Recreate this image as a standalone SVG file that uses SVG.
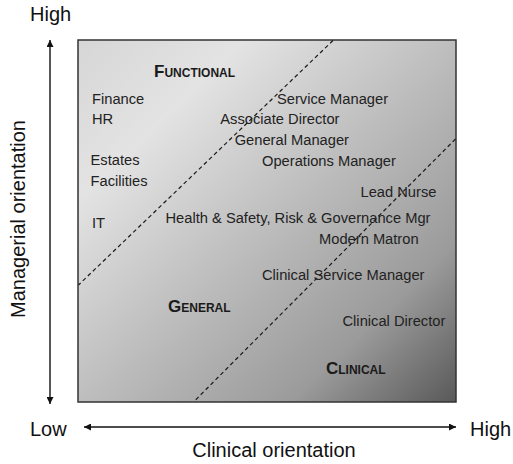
<svg xmlns="http://www.w3.org/2000/svg" width="513" height="464" viewBox="0 0 513 464">
  <style>
    .axis { font-family: "Liberation Sans", Arial, sans-serif; font-size: 20px; fill: #111; }
    .role { font-family: "Liberation Sans", Arial, sans-serif; font-size: 14.7px; fill: #222; }
    .zone { font-family: "Liberation Sans", Arial, sans-serif; font-weight: bold; fill: #1a1a1a; font-size: 12px; }
    .zone .cap { font-size: 17px; }
    .divide { stroke: #1a1a1a; stroke-width: 1.2; stroke-dasharray: 4 3; fill: none; }
    .axisline { stroke: #111; stroke-width: 1.4; fill: none; }
  </style>
  <defs>
    <linearGradient id="field" x1="0" y1="0" x2="1" y2="1">
      <stop offset="0" stop-color="#d6d6d6"/>
      <stop offset="0.22" stop-color="#e3e3e3"/>
      <stop offset="0.5" stop-color="#bebebe"/>
      <stop offset="0.78" stop-color="#9b9b9b"/>
      <stop offset="1" stop-color="#595959"/>
    </linearGradient>
    <marker id="head" viewBox="0 0 10 10" refX="10" refY="5" markerWidth="9" markerHeight="7" markerUnits="userSpaceOnUse" orient="auto-start-reverse">
      <path d="M0,0 L10,5 L0,10 Z" fill="#111"/>
    </marker>
  </defs>

  <rect width="513" height="464" fill="#fff"/>

  <!-- orientation field -->
  <g id="field-box">
    <rect x="78" y="40" width="378" height="362" fill="url(#field)" stroke="#333" stroke-width="1.5"/>
  </g>

  <!-- axes and dashed zone boundaries -->
  <g id="connectors">
    <line class="axisline" x1="50" y1="404" x2="50" y2="40" marker-start="url(#head)" marker-end="url(#head)"/>
    <line class="axisline" x1="84" y1="427" x2="456" y2="427" marker-start="url(#head)" marker-end="url(#head)"/>
    <line class="divide" x1="333" y1="40.5" x2="78.5" y2="285"/>
    <line class="divide" x1="455.5" y1="139" x2="194" y2="401.5"/>
  </g>

  <!-- axis labels -->
  <g id="axis-labels">
    <text class="axis" x="30" y="20.5">High</text>
    <text class="axis" x="30" y="435.5">Low</text>
    <text class="axis" x="470" y="435.5">High</text>
    <text class="axis" x="274" y="457" text-anchor="middle">Clinical orientation</text>
    <text class="axis" transform="translate(25,219) rotate(-90)" text-anchor="middle">Managerial orientation</text>
  </g>

  <!-- zone headings -->
  <g id="zone-functional"><text class="zone" x="154" y="76.7"><tspan class="cap">F</tspan>UNCTIONAL</text></g>
  <g id="zone-general"><text class="zone" x="168" y="311.7"><tspan class="cap">G</tspan>ENERAL</text></g>
  <g id="zone-clinical"><text class="zone" x="326" y="374"><tspan class="cap">C</tspan>LINICAL</text></g>

  <!-- roles -->
  <g id="role-finance"><text class="role" x="92" y="103.5">Finance</text></g>
  <g id="role-hr"><text class="role" x="92" y="124">HR</text></g>
  <g id="role-estates"><text class="role" x="90.5" y="165">Estates</text></g>
  <g id="role-facilities"><text class="role" x="90.5" y="186">Facilities</text></g>
  <g id="role-it"><text class="role" x="92" y="227.5">IT</text></g>
  <g id="role-service-manager"><text class="role" x="277" y="104">Service Manager</text></g>
  <g id="role-associate-director"><text class="role" x="339.5" y="124" text-anchor="end">Associate Director</text></g>
  <g id="role-general-manager"><text class="role" x="349" y="145" text-anchor="end">General Manager</text></g>
  <g id="role-operations-manager"><text class="role" x="262" y="166">Operations Manager</text></g>
  <g id="role-lead-nurse"><text class="role" x="360.5" y="196.5">Lead Nurse</text></g>
  <g id="role-hsrg"><text class="role" x="430.5" y="223" text-anchor="end">Health &amp; Safety, Risk &amp; Governance Mgr</text></g>
  <g id="role-modern-matron"><text class="role" x="319" y="243.5">Modern Matron</text></g>
  <g id="role-clinical-service-manager"><text class="role" x="262" y="279.5">Clinical Service Manager</text></g>
  <g id="role-clinical-director"><text class="role" x="342.5" y="325.7">Clinical Director</text></g>
</svg>
